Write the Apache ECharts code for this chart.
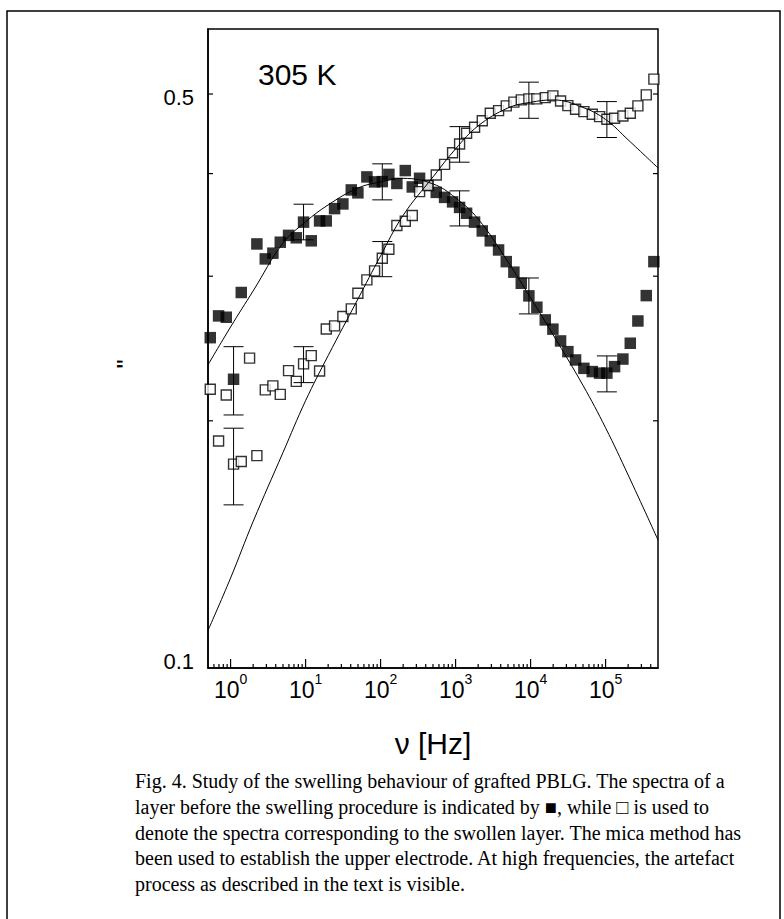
<!DOCTYPE html>
<html><head><meta charset="utf-8">
<script src="https://cdn.jsdelivr.net/npm/echarts@6/dist/echarts.min.js"></script>
<style>html,body{margin:0;padding:0;background:#fff}#c{width:784px;height:919px}</style>
</head><body><div id="c"></div>
<script>
// ---- data (frequency in Hz, loss values) ----
const freq = [0.536, 0.692, 0.876, 1.096, 1.389, 1.792, 2.243, 2.902, 3.664, 4.599,
  5.93, 7.52, 9.40, 11.91, 15.37, 18.88, 24.36, 31.43, 40.68, 49.82,
  65.67, 83.18, 105.4, 129.0, 164.9, 213.5, 264.6, 331.1, 427.3, 552.8,
  713.5, 912, 1131, 1402, 1792, 2270, 2902, 3744, 4742, 5990,
  7516, 9491, 12130, 15700, 19830, 25120, 31430, 39810, 51360, 66470,
  83180, 104100, 131800, 170100, 213500, 269700, 348800, 440600];
const filledVals = [0.2525, 0.2684, 0.2674, 0.2247, 0.2866, null, 0.3284, 0.3149, 0.3200, 0.3300,
  0.3364, 0.3341, 0.3491, 0.3313, 0.3503, 0.3503, 0.3626, 0.3674, 0.3821, 0.3790,
  0.3963, 0.3908, 0.3911, 0.3991, 0.3891, 0.4034, 0.3853, 0.3948, 0.3870, 0.3795,
  0.3742, 0.3695, 0.3638, 0.3579, 0.3491, 0.3406, 0.3313, 0.3229, 0.3125, 0.3034,
  0.2941, 0.2839, 0.2750, 0.2654, 0.2586, 0.2502, 0.2428, 0.2372, 0.2317, 0.2296,
  0.2286, 0.2286, 0.2328, 0.2378, 0.2486, 0.2646, 0.2841, 0.3125];
const openVals = [0.2185, 0.1890, 0.2150, 0.1771, 0.1784, 0.2384, 0.1814, 0.2181, 0.2206, 0.2154,
  0.2302, 0.2234, 0.2346, 0.2401, 0.2300, 0.2587, 0.2610, 0.2679, 0.2737, 0.2860,
  0.2969, 0.3045, 0.3155, 0.3236, 0.3459, 0.3500, 0.3556, 0.3803, 0.3868, 0.3985,
  0.4105, 0.4240, 0.4347, 0.4480, 0.4556, 0.4638, 0.4738, 0.4773, 0.4836, 0.4887,
  0.4918, 0.4933, 0.4933, 0.4950, 0.4974, 0.4904, 0.4840, 0.4791, 0.4759, 0.4724,
  0.4693, 0.4658, 0.4671, 0.4702, 0.4738, 0.4836, 0.4988, 0.5213];
// error bars: [freq, low, high]
const filledErr = [[1.096, 0.2033, 0.2462], [9.40, 0.3322, 0.3671], [105.4, 0.3716, 0.4111],
  [1131, 0.3454, 0.3811], [9491, 0.2699, 0.2985], [104100, 0.2169, 0.2399]];
const openErr = [[1.096, 0.1580, 0.1959], [9.40, 0.2226, 0.2462], [105.4, 0.2996, 0.3306],
  [1131, 0.4130, 0.4563], [9491, 0.4671, 0.5169], [104100, 0.4426, 0.4895]];
// fit curves
const fitFreq = [0.5, 1, 2, 5, 10, 20, 50, 100, 200, 500, 1000, 2000, 5000, 10000, 20000, 50000, 100000, 200000, 500000];
const fitFilled = [0.2340, 0.2602, 0.2879, 0.3292, 0.3494, 0.3664, 0.3842, 0.3908, 0.3947, 0.3886,
  0.3737, 0.3522, 0.3123, 0.2823, 0.2545, 0.2209, 0.1961, 0.1718, 0.1432];
const fitOpen = [0.1111, 0.1287, 0.1508, 0.1830, 0.2116, 0.2401, 0.2815, 0.3176, 0.3558, 0.3963,
  0.4287, 0.4573, 0.4809, 0.4885, 0.4918, 0.4816, 0.4656, 0.4397, 0.4064];
// axes
const xMajorTicks = [1, 10, 100, 1000, 10000, 100000];
const xTickLabels = ['0', '1', '2', '3', '4', '5'];
const xMinorTicks = [0.6, 0.7, 0.8, 0.9,
  2, 3, 4, 5, 6, 7, 8, 9,
  20, 30, 40, 50, 60, 70, 80, 90,
  200, 300, 400, 500, 600, 700, 800, 900,
  2000, 3000, 4000, 5000, 6000, 7000, 8000, 9000,
  20000, 30000, 40000, 50000, 60000, 70000, 80000, 90000,
  200000, 300000, 400000];
const yTicks = [0.2, 0.3, 0.4, 0.5];
const yLabelValues = [0.1, 0.5];
const yLabels = ['0.1', '0.5'];
const X_MIN = 0.5, X_MAX = 500000, Y_MIN = 0.1, Y_MAX = 0.6;
const captionLines = [
  'Fig. 4. Study of the swelling behaviour of grafted PBLG. The spectra of a',
  'layer before the swelling procedure is indicated by \u25A0, while \u25A1 is used to',
  'denote the spectra corresponding to the swollen layer. The mica method has',
  'been used to establish the upper electrode. At high frequencies, the artefact',
  'process as described in the text is visible.'
];

// ---- chart ----
const SANS = '"Liberation Sans", Arial, sans-serif';
const SERIF = '"Liberation Serif", "Times New Roman", serif';
const chart = echarts.init(document.getElementById('c'), null, {renderer: 'svg'});

function pairs(xs, ys) {
  const out = [];
  for (let i = 0; i < xs.length; i++) if (ys[i] != null) out.push([xs[i], ys[i]]);
  return out;
}
function errRender(params, api) {
  const x = api.value(0), lo = api.value(1), hi = api.value(2);
  const a = api.coord([x, hi]), b = api.coord([x, lo]);
  const hw = 10, st = {stroke: '#000', lineWidth: 1};
  return {type: 'group', children: [
    {type: 'line', shape: {x1: a[0], y1: a[1], x2: b[0], y2: b[1]}, style: st},
    {type: 'line', shape: {x1: a[0] - hw, y1: a[1], x2: a[0] + hw, y2: a[1]}, style: st},
    {type: 'line', shape: {x1: b[0] - hw, y1: b[1], x2: b[0] + hw, y2: b[1]}, style: st}
  ]};
}
function xTickRender(len) {
  return function (params, api) {
    const p = api.coord([api.value(0), Y_MIN]);
    return {type: 'line', shape: {x1: p[0], y1: p[1], x2: p[0], y2: p[1] - len},
      style: {stroke: '#000', lineWidth: 1.2}};
  };
}
function yTickRender(params, api) {
  const v = api.value(1);
  const l = api.coord([X_MIN, v]), r = api.coord([X_MAX, v]);
  const st = {stroke: '#000', lineWidth: 1.2};
  return {type: 'group', children: [
    {type: 'line', shape: {x1: l[0], y1: l[1], x2: l[0] + 5, y2: l[1]}, style: st},
    {type: 'line', shape: {x1: r[0], y1: r[1], x2: r[0] - 5, y2: r[1]}, style: st}
  ]};
}
function yLabelRender(params, api) {
  const v = api.value(1);
  const p = api.coord([X_MIN, v]);
  const dy = params.dataIndex === 0 ? -7 : 3;
  return {type: 'text', x: p[0] - 14, y: p[1] + dy,
    style: {text: yLabels[params.dataIndex], fill: '#000', fontSize: 22, fontFamily: SANS,
      align: 'right', verticalAlign: 'middle'}};
}

const graphics = [
  {type: 'rect', shape: {x: 7, y: 11, width: 773, height: 930},
    style: {fill: null, stroke: '#000', lineWidth: 1.5}, silent: true},
  {type: 'text', x: 258, y: 74, style: {text: '305 K', fill: '#000', fontSize: 30, fontFamily: SANS,
    align: 'left', verticalAlign: 'middle'}},
  {type: 'text', x: 126, y: 364, rotation: Math.PI / 2, style: {text: '"', fill: '#000', fontSize: 26,
    fontFamily: SANS, align: 'center', verticalAlign: 'middle'}}
];
captionLines.forEach(function (t, i) {
  graphics.push({type: 'text', x: 135, y: 781 + i * 25.8,
    style: {text: t, fill: '#000', fontSize: 20, fontFamily: SERIF, align: 'left', verticalAlign: 'middle'}});
});

chart.setOption({
  animation: false,
  backgroundColor: '#fff',
  grid: {left: 208, top: 29, width: 450, height: 639, show: true, borderColor: '#000', borderWidth: 1.5,
    backgroundColor: 'transparent'},
  xAxis: {
    type: 'log', logBase: 10, min: X_MIN, max: X_MAX,
    axisLine: {show: true, lineStyle: {color: '#000', width: 1.5}},
    axisTick: {show: false}, splitLine: {show: false},
    axisLabel: {
      margin: 4, showMinLabel: false, showMaxLabel: false,
      formatter: function (v) {
        for (let i = 0; i < xMajorTicks.length; i++) {
          if (Math.abs(v - xMajorTicks[i]) / xMajorTicks[i] < 1e-6) return '{b|10}{s|' + xTickLabels[i] + '}';
        }
        return '';
      },
      rich: {
        b: {fontSize: 23, lineHeight: 36, fontFamily: SANS, color: '#000'},
        s: {fontSize: 14, lineHeight: 14, padding: [0, 0, 22, 0], fontFamily: SANS, color: '#000'}
      }
    },
    name: '\u03BD [Hz]', nameLocation: 'middle', nameGap: 60,
    nameTextStyle: {fontSize: 30, fontFamily: SANS, color: '#000'}
  },
  yAxis: {
    type: 'log', logBase: 10, min: Y_MIN, max: Y_MAX,
    axisLine: {show: true, lineStyle: {color: '#000', width: 1.5}},
    axisTick: {show: false}, splitLine: {show: false}, axisLabel: {show: false}
  },
  graphic: graphics,
  series: [
    {type: 'scatter', name: 'before swelling', data: pairs(freq, filledVals), symbol: 'rect', symbolSize: 11.5,
      itemStyle: {color: '#000'}, z: 2, clip: false, silent: true},
    {type: 'scatter', name: 'swollen', data: pairs(freq, openVals), symbol: 'rect', symbolSize: 10,
      itemStyle: {color: '#fff', borderColor: '#000', borderWidth: 1.4}, z: 3, clip: false, silent: true},
    {type: 'line', data: pairs(fitFreq, fitFilled), smooth: 0.4, showSymbol: false, symbol: 'none',
      lineStyle: {color: '#000', width: 1}, z: 4, silent: true},
    {type: 'line', data: pairs(fitFreq, fitOpen), smooth: 0.4, showSymbol: false, symbol: 'none',
      lineStyle: {color: '#000', width: 1}, z: 4, silent: true},
    {type: 'custom', data: filledErr, renderItem: errRender, encode: {x: 0, y: [1, 2]}, z: 5, clip: false, silent: true},
    {type: 'custom', data: openErr, renderItem: errRender, encode: {x: 0, y: [1, 2]}, z: 5, clip: false, silent: true},
    {type: 'custom', data: xMajorTicks.map(function (v) { return [v, Y_MIN]; }), renderItem: xTickRender(9),
      encode: {x: 0, y: 1}, z: 6, clip: false, silent: true},
    {type: 'custom', data: xMinorTicks.map(function (v) { return [v, Y_MIN]; }), renderItem: xTickRender(4),
      encode: {x: 0, y: 1}, z: 6, clip: false, silent: true},
    {type: 'custom', data: yTicks.map(function (v) { return [X_MIN, v]; }), renderItem: yTickRender,
      encode: {x: 0, y: 1}, z: 6, clip: false, silent: true},
    {type: 'custom', data: yLabelValues.map(function (v) { return [X_MIN, v]; }), renderItem: yLabelRender,
      encode: {x: 0, y: 1}, z: 6, clip: false, silent: true}
  ]
});
</script></body></html>
